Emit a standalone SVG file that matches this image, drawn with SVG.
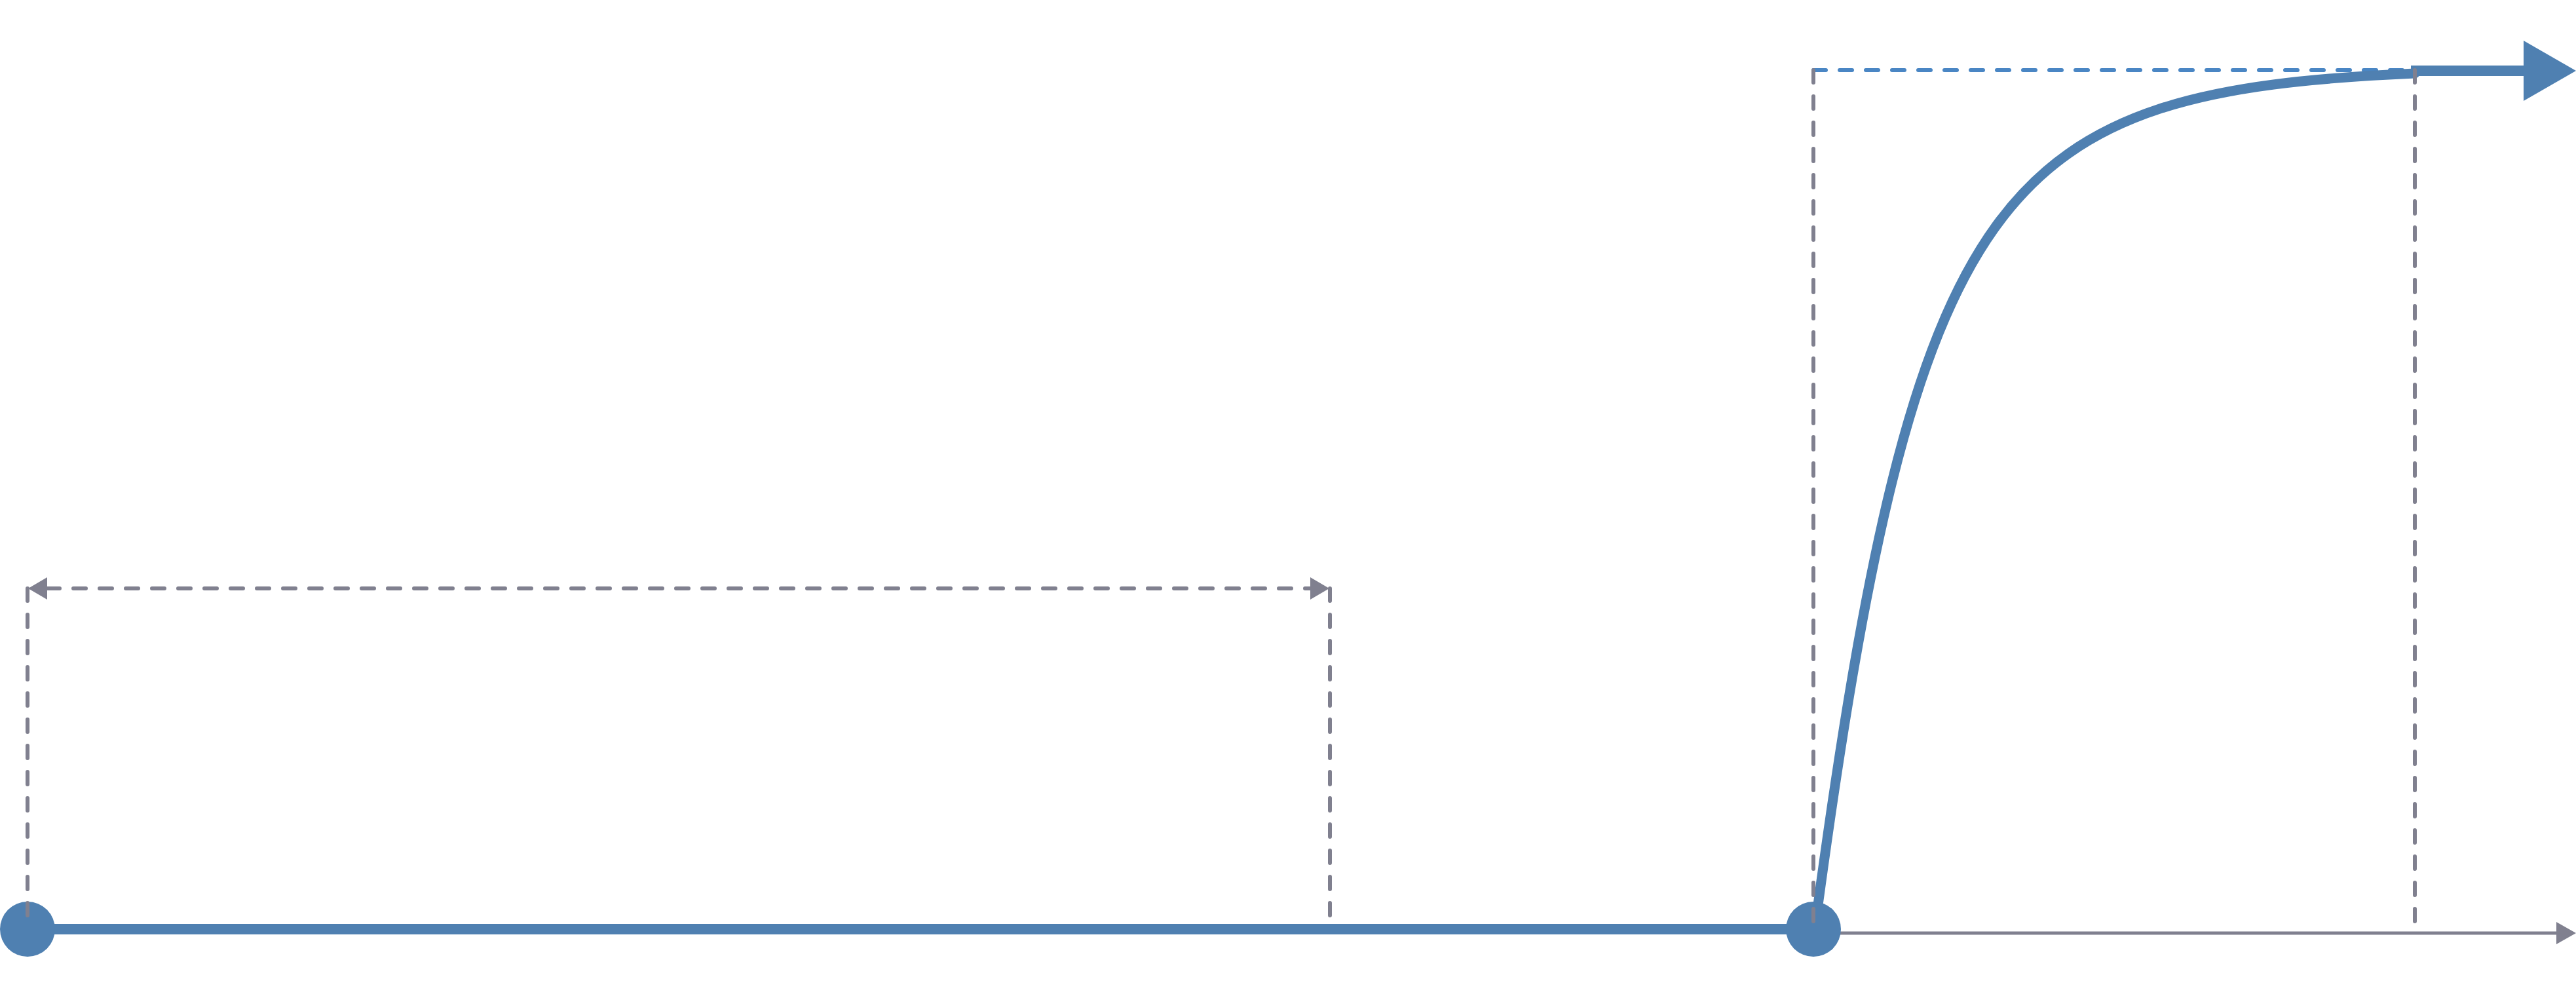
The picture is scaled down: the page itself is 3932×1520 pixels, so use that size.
<svg xmlns="http://www.w3.org/2000/svg" width="3932" height="1520" viewBox="0 0 3932 1520">
  <style>
    .main{fill:none;stroke:#4f80b1;stroke-width:16;stroke-linecap:butt}
    .curve{fill:none;stroke:#4f80b1;stroke-width:15;stroke-linecap:round}
    .dash{fill:none;stroke:#80808f;stroke-width:6;stroke-linecap:round;stroke-dasharray:19 21}
    .dashblue{fill:none;stroke:#4a86c4;stroke-width:6;stroke-linecap:round;stroke-dasharray:19 21}
    .axis{fill:none;stroke:#80808f;stroke-width:5}
    .node{fill:#4f80b1}
  </style>
  <defs>
    <marker id="grayArrow" markerUnits="userSpaceOnUse" markerWidth="30" markerHeight="34" refX="0" refY="17" orient="auto" viewBox="0 0 30 34">
      <path d="M0,0 L30,17 L0,34 Z" fill="#80808f"/>
    </marker>
    <marker id="blueArrow" markerUnits="userSpaceOnUse" markerWidth="80" markerHeight="92" refX="0" refY="46" orient="auto" viewBox="0 0 80 92">
      <path d="M0,0 L80,46 L0,92 Z" fill="#4f80b1"/>
    </marker>
  </defs>
  <rect width="3932" height="1520" fill="#ffffff"/>
  <g id="connectors">
    <line class="main" x1="42" y1="1418" x2="2768" y2="1418"/>
    <line class="axis" x1="2768" y1="1424" x2="3902" y2="1424" marker-end="url(#grayArrow)"/>
    <line class="dashblue" x1="2768" y1="107" x2="3686" y2="107"/>
    <path class="curve" d="M2770,1418 C2924,268 3050,140 3686,112"/>
    <path class="main" d="M3680,108 L3852,108" marker-end="url(#blueArrow)"/>
  </g>
  <g id="node-start"><circle class="node" cx="42" cy="1418" r="42"/></g>
  <g id="node-mid"><circle class="node" cx="2768" cy="1418" r="42"/></g>
  <g id="guides">
    <line class="dash" x1="42" y1="898" x2="42" y2="1418"/>
    <line class="dash" x1="2030" y1="898" x2="2030" y2="1418"/>
    <line class="dash" x1="72" y1="898" x2="2000" y2="898"/>
    <line class="dash" x1="2768" y1="107" x2="2768" y2="1418"/>
    <line class="dash" x1="3686" y1="107" x2="3686" y2="1424"/>
    <path d="M43,898 L72,881 L72,915 Z" fill="#80808f"/>
    <path d="M2029,898 L2000,881 L2000,915 Z" fill="#80808f"/>
  </g>
</svg>
